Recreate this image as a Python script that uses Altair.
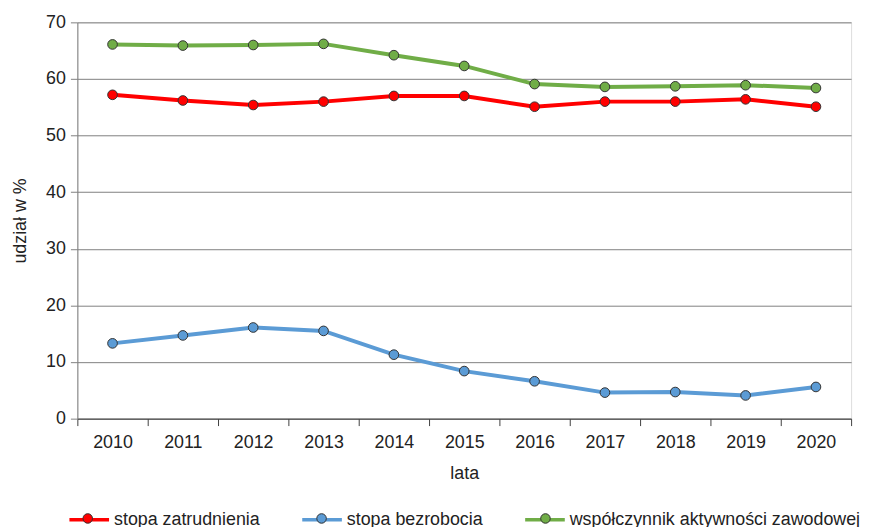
import altair as alt
import pandas as pd

lata = ["2010", "2011", "2012", "2013", "2014", "2015", "2016", "2017", "2018", "2019", "2020"]
seria = ["stopa zatrudnienia", "stopa bezrobocia", "współczynnik aktywności zawodowej"]
kolory = ["#ff0000", "#5b9bd5", "#70ad47"]
stopa_zatrudnienia = [57.2, 56.2, 55.4, 56.0, 57.0, 57.0, 55.1, 56.0, 56.0, 56.4, 55.1]
stopa_bezrobocia = [13.3, 14.7, 16.1, 15.5, 11.3, 8.4, 6.6, 4.6, 4.7, 4.1, 5.6]
wspolczynnik_aktywnosci = [66.1, 65.9, 66.0, 66.2, 64.2, 62.3, 59.1, 58.6, 58.7, 58.9, 58.4]
y_ticks = [0, 10, 20, 30, 40, 50, 60, 70]

wartosci = [stopa_zatrudnienia, stopa_bezrobocia, wspolczynnik_aktywnosci]
seria_p = [s + "\u200b" for s in seria]

rows = []
for s, sp, vals in zip(seria, seria_p, wartosci):
    for rok, v in zip(lata, vals):
        rows.append({"rok": rok, "seria": s, "seria_p": sp, "wartosc": v})
df = pd.DataFrame(rows)

FONT = "Liberation Sans"
TXT = "#222222"

legend_common = dict(
    orient="none",
    legendX=-10,
    legendY=480,
    direction="horizontal",
    title=None,
    symbolSize=1600,
    labelFontSize=18,
    labelFont=FONT,
    labelColor=TXT,
    labelLimit=500,
    padding=0,
)

x_enc = alt.X(
    "rok:O",
    sort=lata,
    scale=alt.Scale(type="band", paddingInner=0, paddingOuter=0),
    axis=alt.Axis(
        title="lata",
        labelAngle=0,
        tickBand="extent",
        tickSize=7,
        labelPadding=8,
        labelFontSize=18,
        labelFont=FONT,
        labelColor=TXT,
        titleFontSize=18,
        titleFont=FONT,
        titleFontWeight="normal",
        titleColor=TXT,
        titlePadding=13,
        domainColor="#404040",
        tickColor="#404040",
        grid=False,
    ),
)

y_enc = alt.Y(
    "wartosc:Q",
    scale=alt.Scale(domain=[0, 70], nice=False),
    axis=alt.Axis(
        title="udział w %",
        values=y_ticks,
        tickSize=7,
        labelPadding=5,
        labelFontSize=18,
        labelFont=FONT,
        labelColor=TXT,
        titleFontSize=18,
        titleFont=FONT,
        titleFontWeight="normal",
        titleColor=TXT,
        titlePadding=16,
        domainColor="#808080",
        tickColor="#808080",
        gridColor="#808080",
        gridWidth=1,
    ),
)

lines = alt.Chart(df).mark_line(strokeWidth=4).encode(
    x=x_enc,
    y=y_enc,
    stroke=alt.Stroke(
        "seria:N",
        scale=alt.Scale(domain=seria, range=kolory),
        legend=alt.Legend(
            symbolType="M-1,0L1,0",
            symbolStrokeWidth=3.5,
            labelOffset=3,
            columnPadding=35,
            **legend_common,
        ),
    ),
)

circle_path = (
    "M-1,0L-1,0M1,0L1,0"
    "M-0.24,0A0.24,0.24 0 1,1 0.24,0A0.24,0.24 0 1,1 -0.24,0Z"
)

points = alt.Chart(df).mark_point(
    filled=True, shape="circle", size=95, stroke="#333333", strokeWidth=1, opacity=1
).encode(
    x=alt.X("rok:O", sort=lata),
    y="wartosc:Q",
    fill=alt.Fill(
        "seria_p:N",
        scale=alt.Scale(domain=seria_p, range=kolory),
        legend=alt.Legend(
            symbolType=circle_path,
            symbolStrokeColor="#333333",
            symbolStrokeWidth=1,
            symbolOpacity=1,
            labelOffset=5.5,
            labelOpacity=0,
            columnPadding=40,
            **legend_common,
        ),
    ),
)

chart = (
    alt.layer(lines, points)
    .properties(
        width=781,
        height=400,
        autosize="none",
        padding={"left": 70, "top": 12, "right": 12, "bottom": 120},
    )
    .configure_view(stroke=None)
    .configure(font=FONT)
)

chart.save("out.html", embed_options={"renderer": "svg", "actions": False})
